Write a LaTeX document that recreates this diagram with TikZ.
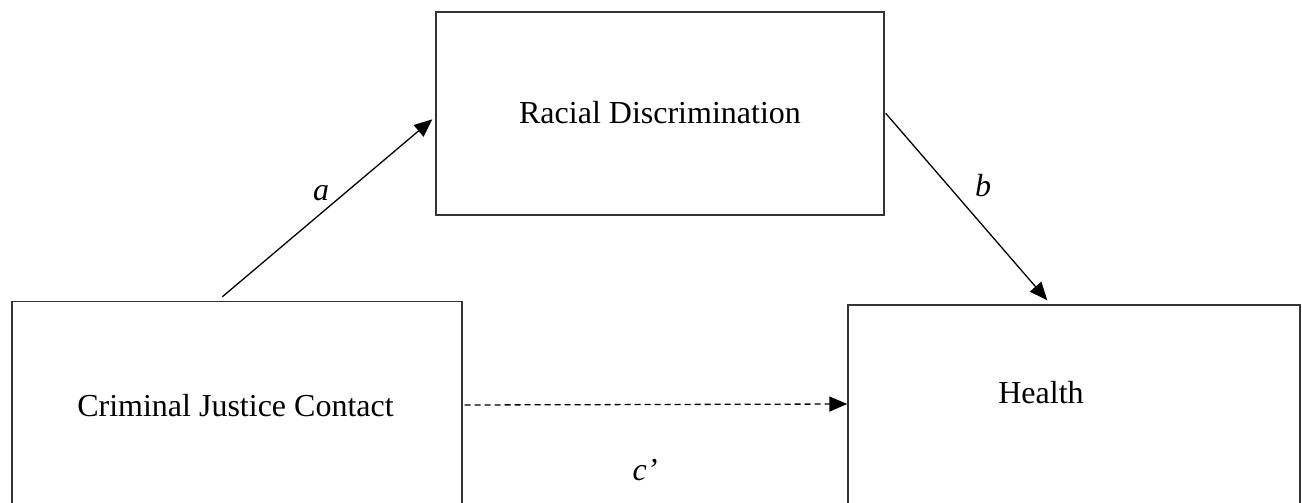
\documentclass[tikz,border=0pt]{standalone}
\usepackage{fontspec}
\setmainfont{Liberation Serif}
\usetikzlibrary{arrows.meta,calc}
\begin{document}
\begin{tikzpicture}[x=1pt,y=-1pt,
  box/.style={draw=black!80,line width=1.4pt,rectangle,inner sep=0pt},
  lbl/.style={font=\fontsize{32}{38}\selectfont,inner sep=0pt},
  coef/.style={font=\fontsize{32}{38}\selectfont\itshape,inner sep=0pt},
  arr/.style={line width=1.3pt,-{Triangle[length=18pt,width=15pt]}},
  darr/.style={arr,dash pattern=on 6pt off 4pt}]
\useasboundingbox (0,0) rectangle (1302,503);
\clip (0,0) rectangle (1302,503);
\node[box,minimum width=450pt,minimum height=203pt] (L) at (237,403) {};
\node[box,minimum width=448pt,minimum height=203pt] (T) at (660,113.5) {};
\node[box,minimum width=452pt,minimum height=203pt] (H) at (1074,406.5) {};
\node[lbl] (Lt) at (235.5,406) {Criminal Justice Contact};
\node[lbl] (Tt) at (660,113) {Racial Discrimination};
\node[lbl] (Ht) at (1041,393) {Health};
\coordinate (a1) at ($(L.north west)+(211,-4)$);
\coordinate (a2) at ($(T.north west)+(-3,108)$);
\coordinate (b1) at ($(T.north east)+(1,102)$);
\coordinate (b2) at ($(H.north west)+(200,-4)$);
\coordinate (c1) at ($(L.east)+(2,2)$);
\coordinate (c2) at ($(H.west)+(0,-2.5)$);
\draw[arr] (a1) -- (a2);
\draw[arr] (b1) -- (b2);
\draw[darr] (c1) -- (c2);
\node[coef] (la) at (321,193) {a};
\node[coef] (lb) at (983,186) {b};
\node[coef] (lc) at (645,470) {c’};
\end{tikzpicture}
\end{document}
